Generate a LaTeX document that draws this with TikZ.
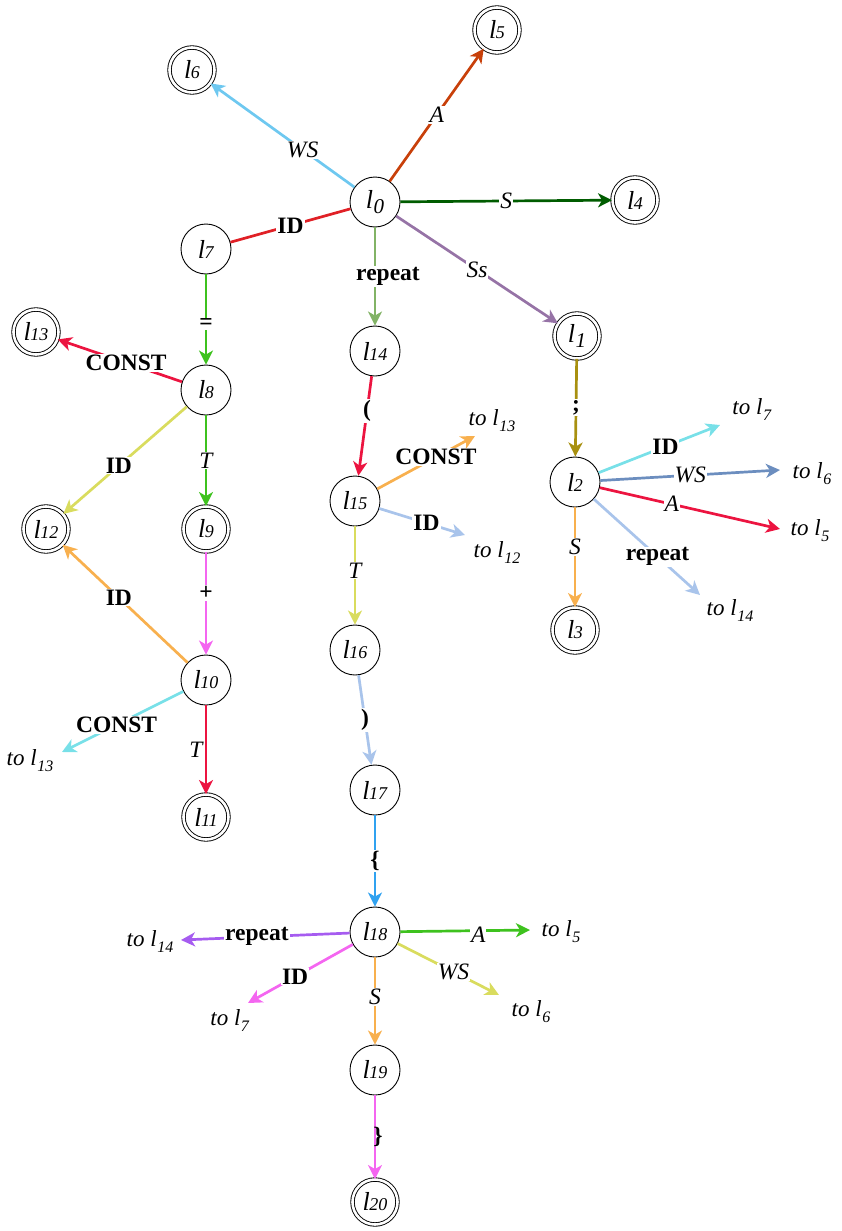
\documentclass[tikz,border=0pt]{standalone}
\usepackage{fontspec}
\setmainfont{Liberation Serif}
\usetikzlibrary{arrows.meta}
\definecolor{cWSa}{HTML}{6EC8F0}
\definecolor{cAa}{HTML}{C8400A}
\definecolor{cSa}{HTML}{005C00}
\definecolor{cRed}{HTML}{E02026}
\definecolor{cRep}{HTML}{82B366}
\definecolor{cSs}{HTML}{9673A6}
\definecolor{cGreen}{HTML}{3EC21E}
\definecolor{cCrim}{HTML}{EC1440}
\definecolor{cYG}{HTML}{D9DC5E}
\definecolor{cMag}{HTML}{F466F0}
\definecolor{cOrg}{HTML}{F8B04E}
\definecolor{cCyan}{HTML}{78E0E8}
\definecolor{cLSB}{HTML}{A9C4EB}
\definecolor{cBlue}{HTML}{30A2F0}
\definecolor{cPur}{HTML}{A65CF0}
\definecolor{cOlive}{HTML}{A89010}
\definecolor{cSteel}{HTML}{6C8EBF}
\newcommand{\nl}[1]{\textit{l}\kern-0.5pt{\fontsize{18}{18}\selectfont\textit{#1}}}
\newcommand{\nls}[1]{\textit{l}\kern0.5pt\raisebox{-5pt}{\fontsize{21}{21}\selectfont\textit{#1}}}
\newcommand{\tol}[1]{\textit{to l}\kern0.5pt\raisebox{-6pt}{\fontsize{16}{16}\selectfont\textit{#1}}}
\tikzset{
  st/.style={circle,draw=black,line width=0.9pt,minimum size=50pt,inner sep=0pt,font=\fontsize{26}{28}\selectfont,fill=white},
  acc/.style={circle,draw=black,line width=0.9pt,minimum size=45pt,inner sep=0pt,double,double distance=2.6pt,font=\fontsize{26}{28}\selectfont,fill=white},
  e/.style={line width=2.7pt,-{Stealth[length=14pt,width=14pt,inset=4pt]}},
  en/.style={line width=2.7pt},
  lb/.style={fill=white,inner sep=1pt,font=\fontsize{23.5}{25}\selectfont\bfseries},
  li/.style={fill=white,inner sep=1pt,font=\fontsize{23.5}{25}\selectfont\itshape},
  tl/.style={inner sep=0pt,font=\fontsize{23}{25}\selectfont}
}
\begin{document}
\begin{tikzpicture}[x=1pt,y=-1pt]
\useasboundingbox (0,0) rectangle (841,1231);
% nodes
\node[st]  (l0)  at (375,202) {\nls{0}};
\node[acc] (l5)  at (497,30)  {\nl{5}};
\node[acc] (l6)  at (192,70)  {\nl{6}};
\node[acc] (l4)  at (635,200) {\nl{4}};
\node[st]  (l7)  at (206,249) {\nl{7}};
\node[st]  (l14) at (375,351) {\nl{14}};
\node[acc] (l1)  at (577,336) {\nls{1}};
\node[acc] (l13) at (36,332)  {\nl{13}};
\node[st]  (l8)  at (206,390) {\nl{8}};
\node[st]  (l2)  at (575,482) {\nl{2}};
\node[st]  (l15) at (355,501) {\nl{15}};
\node[acc] (l12) at (46,529)  {\nl{12}};
\node[acc] (l9)  at (206,529) {\nl{9}};
\node[acc] (l3)  at (575,630) {\nl{3}};
\node[st]  (l16) at (355,650) {\nl{16}};
\node[st]  (l10) at (206,680) {\nl{10}};
\node[acc] (l11) at (206,817) {\nl{11}};
\node[st]  (l17) at (375,790) {\nl{17}};
\node[st]  (l18) at (375,932) {\nl{18}};
\node[st]  (l19) at (375,1070) {\nl{19}};
\node[acc] (l20) at (375,1202) {\nl{20}};
% free ends and their texts
\coordinate (t15a) at (475,436);  \node[tl] (x15a) at (492,421) {\tol{13}};
\coordinate (t15b) at (465,535);  \node[tl] (x15b) at (497,553) {\tol{12}};
\coordinate (t2a) at (720,425);   \node[tl] (x2a) at (752,410) {\tol{7}};
\coordinate (t2b) at (780,470);   \node[tl] (x2b) at (812,474) {\tol{6}};
\coordinate (t2c) at (780,529);   \node[tl] (x2c) at (810,531) {\tol{5}};
\coordinate (t2d) at (700,595);   \node[tl] (x2d) at (730,611) {\tol{14}};
\coordinate (t10) at (62,752);    \node[tl] (x10) at (30,761) {\tol{13}};
\coordinate (t18a) at (181,940);  \node[tl] (x18a) at (150,942) {\tol{14}};
\coordinate (t18b) at (248,1003); \node[tl] (x18b) at (230,1021) {\tol{7}};
\coordinate (t18c) at (530,930);  \node[tl] (x18c) at (561,932) {\tol{5}};
\coordinate (t18d) at (499,995);  \node[tl] (x18d) at (531,1012) {\tol{6}};
% edges from l0
\draw[e,cWSa] (l0) -- node[li,pos=0.36,text=black] {WS} (l6);
\draw[e,cAa] (l0) -- node[li,pos=0.5,text=black] {A} (l5);
\draw[e,cSa] (l0) -- node[li,pos=0.5,text=black] {S} (l4);
\draw[en,cRed] (l0) -- node[lb,pos=0.5,text=black] {ID} (l7);
\draw[e,cRep] (l0) -- node[lb,pos=0.5,text=black,xshift=13pt] {repeat} (l14);
\draw[e,cSs] (l0) -- node[li,pos=0.5,text=black] {Ss} (l1);
% left branch
\draw[e,cGreen] (l7) -- node[lb,pos=0.55,text=black] {=} (l8);
\draw[e,cCrim] (l8) -- node[lb,pos=0.45,text=black] {CONST} (l13);
\draw[e,cYG] (l8) -- node[lb,pos=0.55,text=black] {ID} (l12);
\draw[e,cGreen] (l8) -- node[li,pos=0.5,text=black] {T} (l9);
\draw[e,cMag] (l9) -- node[lb,pos=0.4,text=black] {+} (l10);
\draw[e,cOrg] (l10) -- node[lb,pos=0.55,text=black] {ID} (l12);
\draw[e,cCyan] (l10) -- node[lb,pos=0.55,text=black] {CONST} (t10);
\draw[e,cCrim] (l10) -- node[li,pos=0.5,text=black,xshift=-10pt,fill=none] {T} (l11);
% middle branch
\draw[e,cCrim] (l14) -- node[lb,pos=0.35,text=black] {(} (l15);
\draw[e,cOrg] (l15) -- node[lb,pos=0.6,text=black] {CONST} (t15a);
\draw[e,cLSB] (l15) -- node[lb,pos=0.55,text=black] {ID} (t15b);
\draw[e,cYG] (l15) -- node[li,pos=0.45,text=black] {T} (l16);
\draw[e,cLSB] (l16) -- node[lb,pos=0.5,text=black] {)} (l17);
\draw[e,cBlue] (l17) -- node[lb,pos=0.5,text=black] {\{} (l18);
\draw[e,cPur] (l18) -- node[lb,pos=0.55,text=black] {repeat} (t18a);
\draw[e,cMag] (l18) -- node[lb,pos=0.55,text=black] {ID} (t18b);
\draw[e,cGreen] (l18) -- node[li,pos=0.6,text=black,yshift=-4pt] {A} (t18c);
\draw[e,cYG] (l18) -- node[li,pos=0.55,text=black] {WS} (t18d);
\draw[e,cOrg] (l18) -- node[li,pos=0.45,text=black] {S} (l19);
\draw[e,cMag] (l19) -- node[lb,pos=0.5,text=black,xshift=3pt,fill=none] {\}} (l20);
% right branch
\draw[e,cOlive] (l1) -- node[lb,pos=0.5,text=black] {;} (l2);
\draw[e,cCyan] (l2) -- node[lb,pos=0.55,text=black] {ID} (t2a);
\draw[e,cSteel] (l2) -- node[li,pos=0.5,text=black] {WS} (t2b);
\draw[e,cCrim] (l2) -- node[li,pos=0.4,text=black] {A} (t2c);
\draw[e,cLSB] (l2) -- node[lb,pos=0.6,text=black] {repeat} (t2d);
\draw[e,cOrg] (l2) -- node[li,pos=0.4,text=black] {S} (l3);
\end{tikzpicture}
\end{document}
